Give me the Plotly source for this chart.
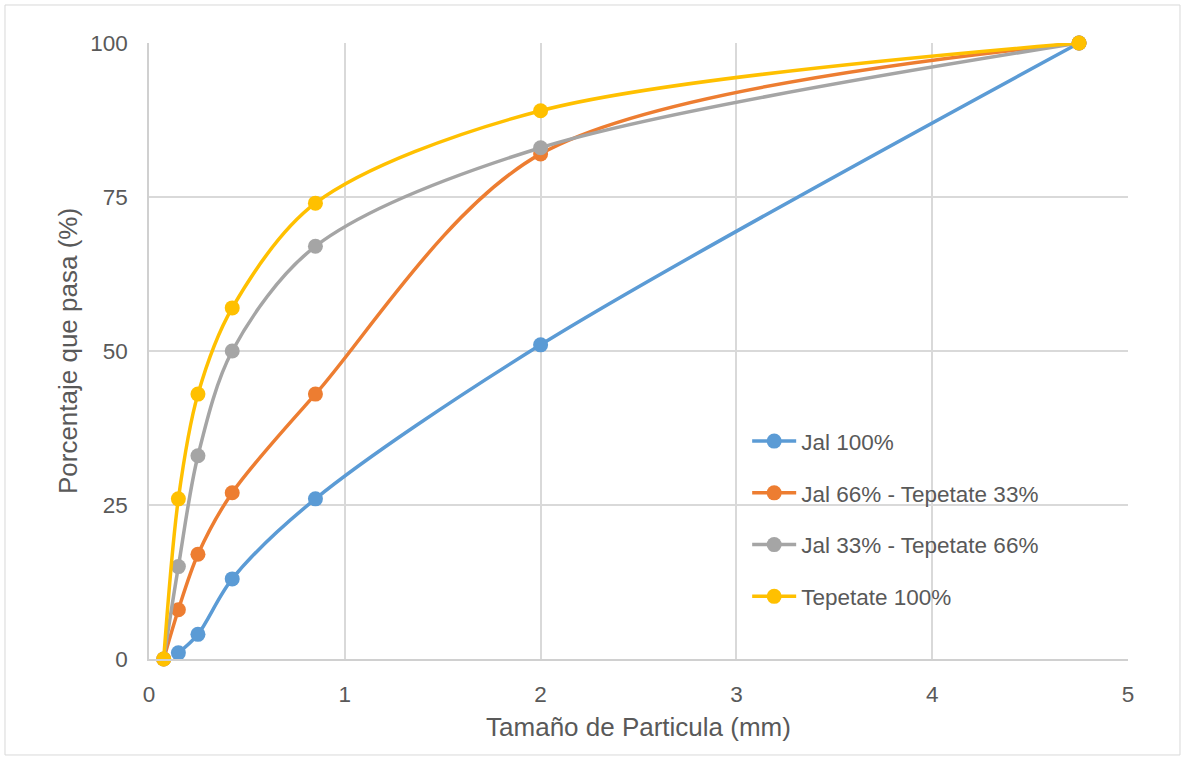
import plotly.graph_objects as go

sizes = [0.075, 0.15, 0.25, 0.425, 0.85, 2.0, 4.75]
jal100 = [None, 1, 4, 13, 26, 51, 100]
jal66 = [0, 8, 17, 27, 43, 82, 100]
jal33 = [0, 15, 33, 50, 67, 83, 100]
tep100 = [0, 26, 43, 57, 74, 89, 100]

names = ["Jal 100%", "Jal 66% - Tepetate 33%", "Jal 33% - Tepetate 66%", "Tepetate 100%"]
colors = ["#5B9BD5", "#ED7D31", "#A5A5A5", "#FFC000"]
series = [jal100, jal66, jal33, tep100]

fig = go.Figure()
for i, (nm, col, ys) in enumerate(zip(names, colors, series)):
    fig.add_trace(go.Scatter(
        x=sizes, y=ys, name=nm, mode="lines+markers",
        line=dict(color=col, width=3.5, shape="spline", smoothing=0.9),
        marker=dict(color=col, size=15, line=dict(width=0)),
        legendgroup=str(i), connectgaps=False, cliponaxis=False,
    ))

font = "Liberation Sans, Arial, sans-serif"
fig.update_layout(
    width=1184, height=760,
    margin=dict(l=149, r=56, t=43, b=101),
    paper_bgcolor="white", plot_bgcolor="white",
    font=dict(family=font, size=22.5, color="#595959"),
    showlegend=True,
    legend=dict(x=0.611, y=0.388, xanchor="left", yanchor="top",
                font=dict(family=font, size=22.5, color="#595959"), tracegroupgap=19.5,
                itemwidth=44, bgcolor="rgba(0,0,0,0)"),
    xaxis=dict(range=[0, 5], dtick=1, showgrid=True, gridcolor="#D9D9D9", gridwidth=1.5,
               showline=True, linecolor="#D0D0D0", linewidth=1.5, zeroline=False,
               ticks="", ticklabelstandoff=14, tickfont=dict(family=font, size=22.5, color="#595959"),
               title=dict(text="Tamaño de Particula (mm)", font=dict(family=font, size=26, color="#595959"), standoff=12)),
    yaxis=dict(range=[0, 100], tickvals=[0, 25, 50, 75, 100], showgrid=True, gridcolor="#D9D9D9", gridwidth=1.5,
               showline=True, linecolor="#D0D0D0", linewidth=1.5, zeroline=False,
               ticks="", ticklabelstandoff=15, tickfont=dict(family=font, size=22.5, color="#595959"),
               title=dict(text="Porcentaje que pasa (%)", font=dict(family=font, size=26, color="#595959"), standoff=5)),
    shapes=[dict(type="rect", xref="paper", yref="paper",
                 x0=-0.1471, x1=1.0531, y0=-0.1558, y1=1.0617,
                 line=dict(color="#D9D9D9", width=1), fillcolor="rgba(0,0,0,0)", layer="below")],
)

fig.write_html("out.html")
